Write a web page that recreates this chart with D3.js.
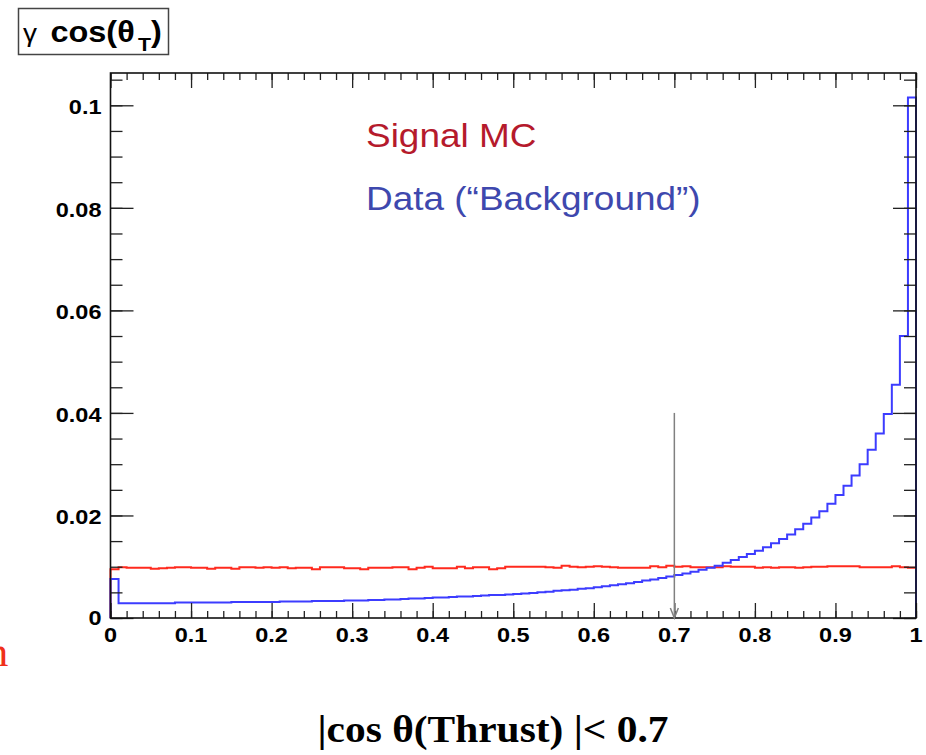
<!DOCTYPE html>
<html>
<head>
<meta charset="utf-8">
<script src="https://cdn.jsdelivr.net/npm/d3@7"></script>
<style>
  html, body { margin: 0; padding: 0; background: #ffffff; }
  svg { display: block; }
</style>
</head>
<body>
<div id="chart"></div>
<script>
// ---------------- data ----------------
const binEdges = d3.range(0, 101).map(i => i / 100); // 100 bins over [0,1]

const signalMC = [
  0.0095, 0.0099, 0.0098, 0.0098, 0.0098, 0.0096, 0.0097, 0.0098, 0.0099, 0.0099,
  0.0098, 0.0098, 0.0096, 0.0098, 0.0098, 0.0096, 0.0099, 0.0099, 0.0098, 0.0099,
  0.0098, 0.0099, 0.0097, 0.0098, 0.0098, 0.0095, 0.0099, 0.0099, 0.0099, 0.0097,
  0.0097, 0.0095, 0.0098, 0.0098, 0.0098, 0.0099, 0.0099, 0.0095, 0.0098, 0.0100,
  0.0097, 0.0097, 0.0097, 0.0100, 0.0097, 0.0099, 0.0099, 0.0095, 0.0097, 0.0100,
  0.0100, 0.0100, 0.0100, 0.0100, 0.0099, 0.0098, 0.0102, 0.0100, 0.0099, 0.0100,
  0.0101, 0.0100, 0.0099, 0.0098, 0.0098, 0.0098, 0.0098, 0.0101, 0.0099, 0.0102,
  0.0100, 0.0101, 0.0099, 0.0099, 0.0099, 0.0099, 0.0101, 0.0100, 0.0100, 0.0100,
  0.0098, 0.0099, 0.0098, 0.0099, 0.0099, 0.0098, 0.0099, 0.0100, 0.0100, 0.0101,
  0.0101, 0.0101, 0.0101, 0.0099, 0.0099, 0.0099, 0.0099, 0.0101, 0.0099, 0.0098
];

const dataBackground = [
  0.0076, 0.0029, 0.0029, 0.0029, 0.0029, 0.0029, 0.0029, 0.0029, 0.0030, 0.0030,
  0.0030, 0.0030, 0.0030, 0.0030, 0.0030, 0.0031, 0.0031, 0.0031, 0.0031, 0.0031,
  0.0031, 0.0032, 0.0032, 0.0032, 0.0032, 0.0033, 0.0033, 0.0033, 0.0033, 0.0034,
  0.0034, 0.0034, 0.0035, 0.0035, 0.0036, 0.0036, 0.0037, 0.0038, 0.0038, 0.0039,
  0.0040, 0.0040, 0.0041, 0.0042, 0.0042, 0.0043, 0.0044, 0.0045, 0.0045, 0.0046,
  0.0047, 0.0048, 0.0049, 0.0050, 0.0051, 0.0053, 0.0054, 0.0055, 0.0057, 0.0058,
  0.0060, 0.0062, 0.0064, 0.0066, 0.0068, 0.0070, 0.0073, 0.0075, 0.0078, 0.0081,
  0.0084, 0.0087, 0.0090, 0.0094, 0.0098, 0.0102, 0.0108, 0.0113, 0.0119, 0.0125,
  0.0131, 0.0138, 0.0146, 0.0154, 0.0163, 0.0173, 0.0184, 0.0196, 0.0208, 0.0223,
  0.0240, 0.0258, 0.0278, 0.0300, 0.0328, 0.0360, 0.0398, 0.0455, 0.0550, 0.1015
];

const xMajorTicks = [0, 0.1, 0.2, 0.3, 0.4, 0.5, 0.6, 0.7, 0.8, 0.9, 1];
const xTickLabels = ["0", "0.1", "0.2", "0.3", "0.4", "0.5", "0.6", "0.7", "0.8", "0.9", "1"];
const xMinorTicks = d3.range(0, 51).map(i => i / 50);
const yMajorTicks = [0, 0.02, 0.04, 0.06, 0.08, 0.1];
const yTickLabels = ["0", "0.02", "0.04", "0.06", "0.08", "0.1"];
const yMinorTicks = d3.range(0, 22).map(i => i * 0.005);

const legendLabels = ["Signal MC", "Data (\u201CBackground\u201D)"];
const cutValue = 0.7;       // arrow position
const cutArrowTop = 0.04;   // arrow starts at this y value
const yMax = 0.1063;

// ---------------- layout ----------------
const W = 926, H = 755;
const SX = 1.12; // horizontal stretch of the original picture
const plot = { left: 110.5, right: 916, top: 73, bottom: 618 };

const svg = d3.select("#chart").append("svg")
  .attr("width", W).attr("height", H)
  .attr("viewBox", `0 0 ${W} ${H}`);

svg.append("rect").attr("width", W).attr("height", H).attr("fill", "#fff");

const x = d3.scaleLinear().domain([0, 1]).range([plot.left, plot.right]);
const y = d3.scaleLinear().domain([0, yMax]).range([plot.bottom, plot.top]);

function stext(parent, px, py, str, opts) {
  const t = parent.append("text")
    .attr("transform", `translate(${px},${py}) scale(${SX},1)`)
    .attr("font-family", opts.family || "'Liberation Sans', Arial, Helvetica, sans-serif")
    .attr("font-size", opts.size)
    .attr("font-weight", opts.weight || "normal")
    .attr("fill", opts.fill || "#000")
    .attr("text-anchor", opts.anchor || "start");
  t.text(str);
  return t;
}

// ---------------- histograms ----------------
function stepPoints(vals) {
  const pts = [[0, 0]];
  vals.forEach((v, i) => pts.push([binEdges[i], v]));
  pts.push([binEdges[vals.length], vals[vals.length - 1]]);
  pts.push([binEdges[vals.length], 0]);
  return pts;
}
const stepLine = d3.line()
  .x(d => x(d[0]))
  .y(d => y(d[1]))
  .curve(d3.curveStepAfter);

svg.append("path")
  .attr("d", stepLine(stepPoints(signalMC)))
  .attr("fill", "none")
  .attr("stroke", "#ff2a1e")
  .attr("stroke-width", 2);

svg.append("path")
  .attr("d", stepLine(stepPoints(dataBackground)))
  .attr("fill", "none")
  .attr("stroke", "#3c3cff")
  .attr("stroke-width", 2);

// ---------------- axes (ticks inside the frame) ----------------
const gx = svg.append("g").attr("transform", `translate(0,${plot.bottom})`);
gx.call(d3.axisBottom(x).tickValues(xMinorTicks).tickSize(-7).tickFormat(""));
gx.append("g").call(d3.axisBottom(x).tickValues(xMajorTicks).tickSize(-15).tickFormat(""));

const gxt = svg.append("g").attr("transform", `translate(0,${plot.top})`);
gxt.call(d3.axisTop(x).tickValues(xMinorTicks).tickSize(-7).tickFormat(""));
gxt.append("g").call(d3.axisTop(x).tickValues(xMajorTicks).tickSize(-15).tickFormat(""));

const gy = svg.append("g").attr("transform", `translate(${plot.left},0)`);
gy.call(d3.axisLeft(y).tickValues(yMinorTicks).tickSize(-12).tickFormat(""));
gy.append("g").call(d3.axisLeft(y).tickValues(yMajorTicks).tickSize(-23).tickFormat(""));

const gyr = svg.append("g").attr("transform", `translate(${plot.right},0)`);
gyr.call(d3.axisRight(y).tickValues(yMinorTicks).tickSize(-12).tickFormat(""));
gyr.append("g").call(d3.axisRight(y).tickValues(yMajorTicks).tickSize(-23).tickFormat(""));

svg.selectAll(".domain").remove();
svg.selectAll(".tick line").attr("stroke", "#222").attr("stroke-width", 1.3);

// frame
svg.append("rect")
  .attr("x", plot.left).attr("y", plot.top)
  .attr("width", plot.right - plot.left).attr("height", plot.bottom - plot.top)
  .attr("fill", "none").attr("stroke", "#111").attr("stroke-width", 1.6);

// tick labels
xMajorTicks.forEach((v, i) => {
  stext(svg, x(v), plot.bottom + 24, xTickLabels[i], { size: 21, weight: "bold", anchor: "middle" });
});
yMajorTicks.forEach((v, i) => {
  const dy = (i === 0) ? 7 : 9;
  stext(svg, plot.left - 9, y(v) + dy, yTickLabels[i], { size: 21, weight: "bold", anchor: "end" });
});

// ---------------- cut arrow ----------------
const ax = x(cutValue);
svg.append("line")
  .attr("x1", ax).attr("x2", ax)
  .attr("y1", y(cutArrowTop)).attr("y2", y(0))
  .attr("stroke", "#808080").attr("stroke-width", 1.5);
svg.append("path")
  .attr("d", `M${ax - 4},${y(0) - 10} L${ax},${y(0)} L${ax + 4},${y(0) - 10}`)
  .attr("fill", "none").attr("stroke", "#808080").attr("stroke-width", 1.5);

// ---------------- legend text ----------------
stext(svg, 366, 147, legendLabels[0], { size: 33, fill: "#b51a2c" });
stext(svg, 366, 210, legendLabels[1], { size: 33, fill: "#3e48ae" });

// ---------------- title box ----------------
svg.append("rect")
  .attr("x", 18.5).attr("y", 8.5).attr("width", 150).attr("height", 46)
  .attr("fill", "#fff").attr("stroke", "#444").attr("stroke-width", 1.5);
const title = svg.append("text")
  .attr("transform", `translate(23,42) scale(${SX},1)`)
  .attr("font-family", "'Liberation Sans', Arial, Helvetica, sans-serif")
  .attr("font-size", 29)
  .attr("fill", "#000");
title.append("tspan").attr("font-size", 25).text("\u03B3");
title.append("tspan").attr("font-weight", "bold").attr("dx", 12).text("cos(\u03B8");
title.append("tspan").attr("font-weight", "bold").attr("font-size", 19).attr("dx", 3).attr("dy", 9).text("T");
title.append("tspan").attr("font-weight", "bold").attr("dy", -9).text(")");

// ---------------- caption below ----------------
stext(svg, 493, 742, "|cos \u03B8(Thrust) |< 0.7",
  { size: 37, weight: "bold", anchor: "middle", family: "'Liberation Serif', 'Times New Roman', serif" });

// partially visible red glyph at the left edge (cut off in the original slide too)
stext(svg, -14, 666, "n", { size: 40, fill: "#f0301a", family: "'Liberation Serif', 'Times New Roman', serif" });
</script>
</body>
</html>
